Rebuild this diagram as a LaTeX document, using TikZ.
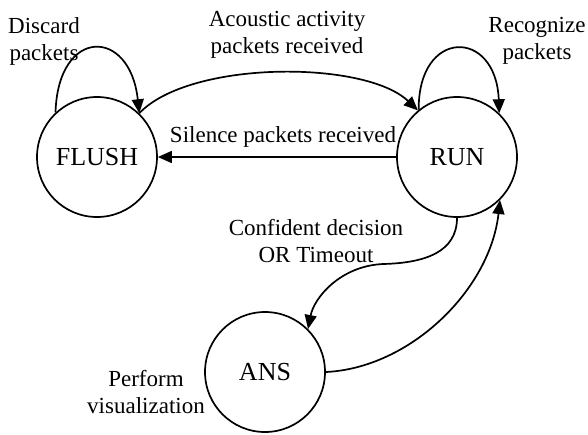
\documentclass[tikz,border=0pt]{standalone}
\usepackage{fontspec}
\setmainfont{Liberation Serif}
\usetikzlibrary{arrows.meta}
\begin{document}
\begin{tikzpicture}[x=1pt,y=-1pt,
  state/.style={draw,circle,line width=1.7pt,minimum size=120pt,inner sep=0pt,font=\fontsize{26}{30}\selectfont},
  lbl/.style={align=center,inner sep=0pt,font=\fontsize{23}{27}\selectfont},
  edge/.style={line width=1.7pt,-{Triangle[length=14pt,width=12pt]}},
  plain/.style={line width=1.7pt}]
\useasboundingbox[fill=white] (0,0) rectangle (588,434);
\node[state] (flush) at (97,157) {FLUSH};
\node[state] (run) at (457,157) {RUN};
\node[state] (ans) at (265,372) {ANS};

\node[lbl] (ldiscard) at (44,41) {Discard\\packets};
\node[lbl] (lacoustic) at (287,35) {Acoustic activity\\packets received};
\node[lbl] (lrecog) at (537,41) {Recognize\\packets};
\node[lbl] (lsilence) at (283,137) {Silence packets received};
\node[lbl] (lconf) at (316,241) {Confident decision\\OR Timeout};
\node[lbl] (lperform) at (146,392) {Perform\\visualization};

\draw[edge] (flush.133) .. controls (58,27) and (130,27) .. (flush.46);
\draw[edge] (run.129) .. controls (418,28) and (496,28) .. (run.46);
\draw[edge] (flush.46) .. controls (190,60) and (365,60) .. (run.130);
\draw[edge] (run.180) -- (flush.0);
\coordinate (mid) at (383,264);
\draw[edge] (run.270) .. controls (457,252) and (425,263) .. (mid)
  .. controls (340,266) and (314,298) .. (ans.45);
\draw[edge] (ans.0) .. controls (410,368) and (490,290) .. (run.-45);
\end{tikzpicture}
\end{document}
